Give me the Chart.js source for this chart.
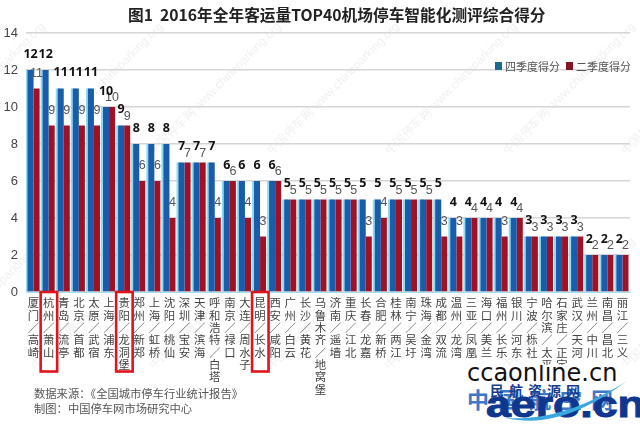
<!DOCTYPE html>
<html><head><meta charset="utf-8">
<script src="https://cdn.jsdelivr.net/npm/chart.js@4"></script>
<style>
html,body{margin:0;padding:0;background:#fff;width:640px;height:427px;overflow:hidden}
#w{position:relative;width:640px;height:427px}
canvas{position:absolute;left:0;top:0}
.t{position:absolute;white-space:nowrap;font-family:"Noto Sans CJK SC",sans-serif}
#title{left:128px;top:3px;font-size:15.7px;font-weight:700;color:#222;line-height:24px}
.note{left:34px;font-size:11.3px;color:#555;line-height:16px}
#legend{position:absolute;left:495px;top:57px;display:flex;align-items:center;height:18px;font:11px/18px "Noto Sans CJK SC";color:#555;white-space:nowrap}
#legend i{display:inline-block;width:7px;height:8px;margin-right:3px}
#legend span{margin-right:6px}
#logo{position:absolute;left:462px;top:365px;width:178px;height:62px;background:#fff;overflow:hidden}
#logo div{position:absolute;white-space:nowrap}
</style></head><body>
<div id="w">
<canvas id="c" width="640" height="427"></canvas>
<div class="t" id="title">图1&nbsp;&nbsp;2016年全年客运量TOP40机场停车智能化测评综合得分</div>
<div id="legend"></div>
<div class="t note" style="top:385px">数据来源：《全国城市停车行业统计报告》</div>
<div class="t note" style="top:400px">制图：中国停车网市场研究中心</div>
<div id="logo">
<div style="left:5px;top:-6px;font:24px 'DejaVu Sans';color:#111">ccaonline.cn</div>
<div style="left:5px;top:17px;font:700 22px 'Noto Sans CJK SC';color:#3f78c4;letter-spacing:9px">中国航空网</div>
<div style="left:28px;top:15px;font:700 14px 'Noto Sans CJK SC';color:#173f8f;letter-spacing:5px">民航资源网</div>
<div style="left:24px;top:22px;font:900 36px/36px 'Liberation Sans';color:#10378f;transform:scaleX(1.24);transform-origin:left top;-webkit-text-stroke:1px #10378f">aero.cn</div>
<svg style="position:absolute;left:0;top:0" width="178" height="62"><path d="M44 53 C85 63 125 45 165 16 C128 39 88 56 44 53Z" fill="#39a8e0"/></svg>
</div>
</div>
<script>
const categories=["厦门/高崎","杭州/萧山","青岛/流亭","北京/首都","太原/武宿","上海/浦东","贵阳/龙洞堡","郑州/新郑","上海/虹桥","沈阳/桃仙","深圳/宝安","天津/滨海","呼和浩特/白塔","南京/禄口","大连/周水子","昆明/长水","西安/咸阳","广州/白云","长沙/黄花","乌鲁木齐/地窝堡","济南/遥墙","重庆/江北","长春/龙嘉","合肥/新桥","桂林/两江","南宁/吴圩","珠海/金湾","成都/双流","温州/龙湾","三亚/凤凰","海口/美兰","福州/长乐","银川/河东","宁波/栎社","哈尔滨/太平","石家庄/正定","武汉/天河","兰州/中川","南昌/昌北","丽江/三义"];
const q4Scores=[12,12,11,11,11,10,9,8,8,8,7,7,7,6,6,6,6,5,5,5,5,5,5,5,5,5,5,5,4,4,4,4,4,3,3,3,3,2,2,2];
const q2Scores=[11,9,9,9,9,10,9,6,6,4,7,7,4,6,4,3,6,5,5,5,5,5,3,4,5,5,5,3,3,4,4,3,4,3,3,3,3,2,2,2];
const highlighted=["杭州/萧山","贵阳/龙洞堡","昆明/长水"];
const seriesNames=["四季度得分","二季度得分"];
const barColors=["#1a5caa","#a11126"];
const legendColors=["#1c6a90","#8a1227"];
const CJK='"Noto Sans CJK SC"';

document.getElementById('legend').innerHTML=seriesNames.map((n,i)=>`<i style="background:${legendColors[i]}"></i><span>${n}</span>`).join('');

const watermark={id:'watermark',beforeDraw(ch){const x=ch.ctx;x.save();x.fillStyle='#f0f0f0';x.font='12px "Liberation Sans"';
 for(let a=-200;a<900;a+=118){for(let b=-60;b<800;b+=215){x.save();x.translate(a,b);x.rotate(-Math.PI/4);x.fillText('中国停车网 www.chinaparking.org',0,0);x.restore();}}
 x.restore();}};
const barShadow={id:'barShadow',
 beforeDatasetDraw(ch,a){const x=ch.ctx;x.save();if(a.index===0){x.shadowColor='#8edcf2';x.shadowOffsetX=-2;x.shadowBlur=0;}},
 afterDatasetDraw(ch){ch.ctx.restore();}};
const valueLabels={id:'valueLabels',afterDatasetsDraw(ch){const x=ch.ctx;x.save();x.textAlign='center';x.textBaseline='middle';
 const m0=ch.getDatasetMeta(0).data,m1=ch.getDatasetMeta(1).data;
 q2Scores.forEach((v,i)=>{x.font='12.5px "Liberation Sans"';x.fillStyle='#555';x.fillText(v,m1[i].x,m1[i].y-(v===q4Scores[i]?9:15));});
 q4Scores.forEach((v,i)=>{x.font='700 12.5px "Noto Sans"';x.fillStyle='#111';x.fillText(v,m0[i].x,m0[i].y-16);});
 x.restore();}};
const redBoxes={id:'redBoxes',afterDraw(ch){const x=ch.ctx,s=ch.scales.x,b=ch.scales.y.bottom;x.save();x.strokeStyle='#e0141c';x.lineWidth=2.6;
 highlighted.forEach(n=>{const c=s.getPixelForValue(categories.indexOf(n));x.strokeRect(c-8,b,16.5,79.5);});x.restore();}};

new Chart(document.getElementById('c'),{
 type:'bar',
 data:{labels:categories.map(n=>Array.from(n.replace('/','／'))),datasets:[
  {label:seriesNames[0],data:q4Scores,backgroundColor:barColors[0],categoryPercentage:.8,barPercentage:1},
  {label:seriesNames[1],data:q2Scores,backgroundColor:barColors[1],categoryPercentage:.8,barPercentage:1}]},
 plugins:[watermark,barShadow,valueLabels,redBoxes],
 options:{responsive:false,animation:false,devicePixelRatio:1,
  layout:{padding:{top:33,right:10,left:0,bottom:0}},
  plugins:{title:{display:false},legend:{display:false},tooltip:{enabled:false}},
  scales:{
   x:{grid:{display:false,drawTicks:false},border:{color:'#9fe0f2',width:1},
      afterFit(s){s.height=135;},
      ticks:{autoSkip:false,maxRotation:0,minRotation:0,padding:5,color:'#444',font:{family:CJK,size:11.4,lineHeight:1.08}}},
   y:{min:0,max:14,afterFit(s){s.width=26;},
      grid:{color:'#d6d6d6',lineWidth:1.5,drawTicks:false},border:{display:false},
      ticks:{stepSize:2,padding:8,color:'#444',font:{family:'"Liberation Sans"',size:13}}}
  }}
});
</script>
</body></html>
